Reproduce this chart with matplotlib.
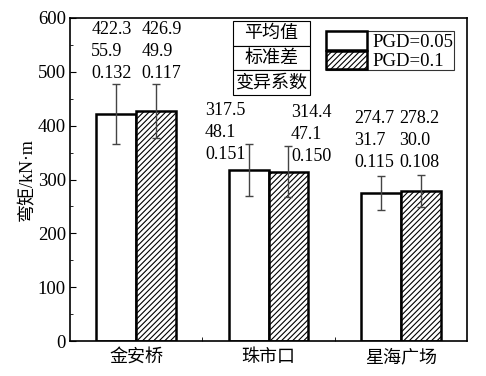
import numpy as np
import matplotlib
matplotlib.use('Agg')
import matplotlib.pyplot as plt
from matplotlib.patches import Patch
from matplotlib.ticker import MultipleLocator, FixedLocator

plt.rcParams['font.family'] = ['Liberation Serif', 'Noto Sans CJK SC']
plt.rcParams['hatch.linewidth'] = 0.8

# Data
sites = ['金安桥', '珠市口', '星海广场']
mean_005 = [422.3, 317.5, 274.7]
mean_01 = [426.9, 314.4, 278.2]
std_005 = [55.9, 48.1, 31.7]
std_01 = [49.9, 47.1, 30.0]
cv_005 = ['0.132', '0.151', '0.115']
cv_01 = ['0.117', '0.150', '0.108']

fig = plt.figure(figsize=(4.86, 3.76), dpi=100)
ax = fig.add_axes([70/486, 35/376, 397/486, 323/376])

x = np.arange(1, len(sites) + 1)
w = 0.3
ax.bar(x - w/2, mean_005, w, facecolor='white', edgecolor='black', linewidth=1.8, zorder=2)
ax.bar(x + w/2, mean_01, w, facecolor='white', edgecolor='black', linewidth=1.8,
       hatch='//////', zorder=2)
ax.errorbar(x - w/2, mean_005, yerr=std_005, fmt='none', ecolor='#444444',
            elinewidth=1, capsize=3, capthick=1, zorder=3)
ax.errorbar(x + w/2, mean_01, yerr=std_01, fmt='none', ecolor='#444444',
            elinewidth=1, capsize=3, capthick=1, zorder=3)

# annotation text positions (offset from group centre, top line y)
left_dx = [-0.34, -0.48, -0.35]
right_dx = [0.04, 0.17, -0.01]
left_y = [578, 429, 414]
right_y = [578, 424, 414]
for i in range(len(sites)):
    for j, s in enumerate(['%.1f' % mean_005[i], '%.1f' % std_005[i], cv_005[i]]):
        ax.text(x[i] + left_dx[i], left_y[i] - j*41, s, fontsize=13, va='center', ha='left')
    for j, s in enumerate(['%.1f' % mean_01[i], '%.1f' % std_01[i], cv_01[i]]):
        ax.text(x[i] + right_dx[i], right_y[i] - j*41, s, fontsize=13, va='center', ha='left')

# table of stat names
tb = ax.table(cellText=[['平均值'], ['标准差'], ['变异系数']], cellLoc='center',
              bbox=[0.41, 0.762, 0.195, 0.229])
tb.auto_set_font_size(False)
for c in tb.get_celld().values():
    c.set_linewidth(0.8)
    c.get_text().set_fontsize(13)
    c.get_text().set_family(['Noto Sans CJK SC'])

handles = [Patch(facecolor='white', edgecolor='black', linewidth=1.8),
           Patch(facecolor='white', edgecolor='black', linewidth=1.8, hatch='//////')]
leg = ax.legend(handles, ['PGD=0.05', 'PGD=0.1'], loc='upper left',
                bbox_to_anchor=(0.645, 0.96), fontsize=13.5, frameon=True, fancybox=False,
                borderpad=0, borderaxespad=0, labelspacing=0, handlelength=2.2,
                handleheight=1.15, handletextpad=0.3)
leg.get_frame().set_edgecolor('black')
leg.get_frame().set_linewidth(0.8)

ax.set_xlim(0.5, 3.5)
ax.set_ylim(0, 600)
ax.set_xticks(x)
ax.set_xticklabels(sites, fontsize=13, family=['Noto Sans CJK SC'])
ax.xaxis.set_minor_locator(FixedLocator([1.5, 2.5]))
ax.yaxis.set_major_locator(MultipleLocator(100))
ax.yaxis.set_minor_locator(MultipleLocator(50))
ax.tick_params(axis='both', which='both', direction='in')
ax.tick_params(axis='x', which='major', length=0, pad=5)
ax.tick_params(axis='x', which='minor', length=3)
ax.tick_params(axis='y', which='major', length=4, labelsize=13.5, pad=3)
ax.tick_params(axis='y', which='minor', length=2)
for sp in ax.spines.values():
    sp.set_linewidth(1.2)
ax.set_ylabel('弯矩/kN·m', fontsize=13, family=['Liberation Serif', 'Noto Sans CJK SC'], labelpad=1)

fig.savefig('out.png', dpi=100)
